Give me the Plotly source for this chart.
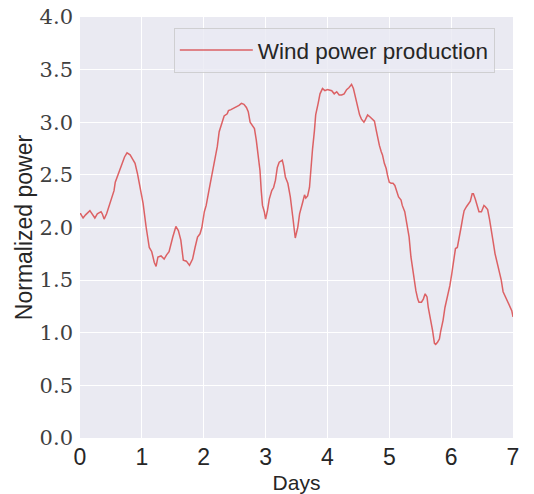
import plotly.graph_objects as go

# Time (days) and normalized wind power production
days = [0.00, 0.01, 0.05, 0.09, 0.16, 0.21, 0.24, 0.28, 0.34, 0.36, 0.39, 0.43,
        0.47, 0.51, 0.55, 0.57, 0.63, 0.67, 0.72, 0.76, 0.81, 0.86, 0.89, 0.93,
        0.97, 1.02, 1.07, 1.12, 1.16, 1.20, 1.23, 1.26, 1.31, 1.36, 1.40, 1.44,
        1.50, 1.55, 1.59, 1.63, 1.67, 1.72, 1.77, 1.82, 1.86, 1.90, 1.94, 1.97,
        2.01, 2.04, 2.09, 2.13, 2.18, 2.22, 2.25, 2.30, 2.33, 2.38, 2.40, 2.44,
        2.48, 2.52, 2.57, 2.61, 2.65, 2.69, 2.72, 2.75, 2.78, 2.82, 2.85, 2.88,
        2.91, 2.93, 2.95, 2.98, 3.00, 3.03, 3.06, 3.10, 3.13, 3.16, 3.19, 3.22,
        3.27, 3.29, 3.32, 3.36, 3.40, 3.44, 3.47, 3.48, 3.52, 3.55, 3.60, 3.63,
        3.65, 3.68, 3.71, 3.73, 3.76, 3.79, 3.81, 3.85, 3.88, 3.92, 3.96, 4.00,
        4.04, 4.07, 4.11, 4.15, 4.19, 4.23, 4.27, 4.31, 4.35, 4.39, 4.42, 4.45,
        4.49, 4.52, 4.55, 4.59, 4.61, 4.65, 4.69, 4.73, 4.76, 4.79, 4.81, 4.84,
        4.87, 4.89, 4.92, 4.95, 4.97, 5.00, 5.03, 5.06, 5.09, 5.12, 5.15, 5.19,
        5.21, 5.25, 5.28, 5.32, 5.35, 5.38, 5.40, 5.43, 5.46, 5.48, 5.52, 5.55,
        5.58, 5.61, 5.63, 5.67, 5.70, 5.73, 5.75, 5.78, 5.81, 5.83, 5.87, 5.90,
        5.94, 5.98, 6.01, 6.04, 6.07, 6.10, 6.13, 6.16, 6.19, 6.21, 6.25, 6.28,
        6.31, 6.34, 6.36, 6.39, 6.42, 6.45, 6.49, 6.53, 6.55, 6.59, 6.62, 6.64,
        6.68, 6.71, 6.75, 6.78, 6.81, 6.84, 6.89, 6.92, 6.96, 6.98, 7.00]

power = [2.13, 2.13, 2.09, 2.12, 2.16, 2.11, 2.09, 2.13, 2.15, 2.13, 2.08, 2.13,
         2.21, 2.27, 2.35, 2.43, 2.53, 2.58, 2.67, 2.71, 2.69, 2.64, 2.61, 2.51,
         2.39, 2.23, 2.00, 1.81, 1.77, 1.67, 1.63, 1.72, 1.73, 1.70, 1.74, 1.77,
         1.91, 2.01, 1.97, 1.88, 1.69, 1.68, 1.64, 1.70, 1.81, 1.91, 1.94, 2.00,
         2.15, 2.21, 2.37, 2.50, 2.67, 2.77, 2.91, 3.00, 3.06, 3.08, 3.11, 3.12,
         3.13, 3.14, 3.16, 3.18, 3.17, 3.14, 3.10, 3.00, 2.97, 2.94, 2.83, 2.70,
         2.54, 2.35, 2.21, 2.15, 2.08, 2.16, 2.27, 2.35, 2.38, 2.45, 2.57, 2.62,
         2.64, 2.59, 2.48, 2.42, 2.29, 2.10, 1.94, 1.90, 2.00, 2.13, 2.24, 2.31,
         2.28, 2.30, 2.38, 2.54, 2.75, 2.92, 3.07, 3.18, 3.27, 3.32, 3.30, 3.31,
         3.30, 3.30, 3.27, 3.29, 3.26, 3.26, 3.27, 3.31, 3.33, 3.36, 3.32, 3.24,
         3.13, 3.07, 3.03, 3.00, 3.02, 3.07, 3.05, 3.03, 3.01, 2.92, 2.86, 2.78,
         2.72, 2.69, 2.61, 2.56, 2.50, 2.43, 2.42, 2.42, 2.40, 2.34, 2.29, 2.26,
         2.21, 2.15, 2.05, 1.91, 1.72, 1.59, 1.50, 1.40, 1.32, 1.29, 1.29, 1.32,
         1.37, 1.34, 1.24, 1.12, 1.02, 0.90, 0.89, 0.91, 0.94, 1.01, 1.12, 1.24,
         1.34, 1.45, 1.56, 1.67, 1.80, 1.81, 1.89, 2.00, 2.10, 2.16, 2.20, 2.22,
         2.25, 2.32, 2.32, 2.27, 2.22, 2.15, 2.15, 2.21, 2.20, 2.17, 2.08, 1.99,
         1.86, 1.75, 1.66, 1.59, 1.50, 1.39, 1.32, 1.28, 1.24, 1.21, 1.15]

x_ticks = [0, 1, 2, 3, 4, 5, 6, 7]
y_ticks = [0.0, 0.5, 1.0, 1.5, 2.0, 2.5, 3.0, 3.5, 4.0]
y_tick_labels = ["0.0", "0.5", "1.0", "1.5", "2.0", "2.5", "3.0", "3.5", "4.0"]

text_color = "#262626"
sans = "Liberation Sans"
serif = "DejaVu Serif"

fig = go.Figure()
fig.add_trace(go.Scatter(
    x=days, y=power, mode="lines", name="Wind power production",
    line=dict(color="rgba(214,39,40,0.7)", width=1.5),
))

fig.update_layout(
    width=534, height=494,
    margin=dict(l=80, r=21, t=17, b=56, autoexpand=False),
    paper_bgcolor="white",
    plot_bgcolor="#EAEAF2",
    showlegend=True,
    legend=dict(
        x=0.958, y=0.974, xanchor="right", yanchor="top",
        bgcolor="rgba(234,234,242,0.8)",
        bordercolor="rgba(200,200,200,0.8)", borderwidth=1,
        font=dict(family=sans, size=22.5, color=text_color),
        itemwidth=73,
    ),
    xaxis=dict(
        range=[0, 7], tickmode="array", tickvals=x_ticks,
        showgrid=True, gridcolor="white", gridwidth=1,
        zeroline=False, showline=False, ticks="", automargin=False,
        ticklabelstandoff=3,
        tickfont=dict(family=sans, size=23, color=text_color),
        title=dict(text="Days", font=dict(family=sans, size=21, color=text_color),
                   standoff=8),
    ),
    yaxis=dict(
        range=[0, 4], tickmode="array", tickvals=y_ticks, ticktext=y_tick_labels,
        showgrid=True, gridcolor="white", gridwidth=1,
        zeroline=False, showline=False, ticks="", automargin=False,
        ticklabelstandoff=6,
        tickfont=dict(family=serif, size=21, color="#404040"),
        title=dict(text="Normalized power",
                   font=dict(family=sans, size=23, color=text_color), standoff=0),
    ),
)

fig.write_html("out.html")
